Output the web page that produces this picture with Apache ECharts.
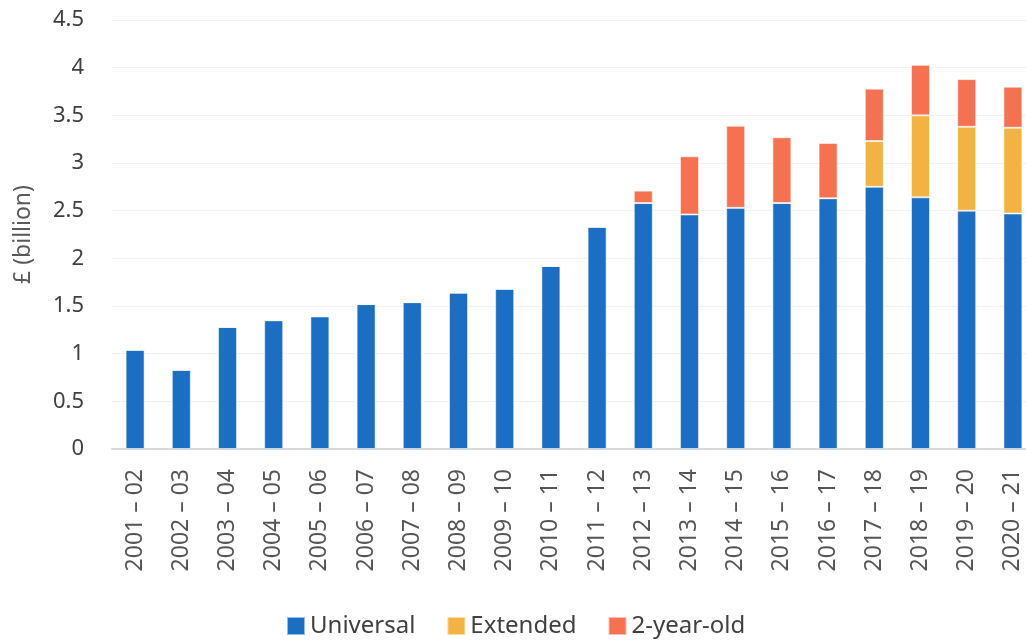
<!DOCTYPE html>
<html>
<head>
<meta charset="utf-8">
<script src="https://cdn.jsdelivr.net/npm/echarts@6/dist/echarts.min.js"></script>
<style>
  html, body { margin: 0; padding: 0; background: #ffffff; }
  #chart { width: 1026px; height: 643px; }
</style>
</head>
<body>
<div id="chart"></div>
<script>
// Financial years
const years = [
  '2001 – 02', '2002 – 03', '2003 – 04', '2004 – 05', '2005 – 06',
  '2006 – 07', '2007 – 08', '2008 – 09', '2009 – 10', '2010 – 11',
  '2011 – 12', '2012 – 13', '2013 – 14', '2014 – 15', '2015 – 16',
  '2016 – 17', '2017 – 18', '2018 – 19', '2019 – 20', '2020 – 21'
];

// Spending in £ billion
const universal = [
  1.04, 0.83, 1.28, 1.35, 1.39, 1.52, 1.54, 1.64, 1.68, 1.92,
  2.33, 2.58, 2.46, 2.53, 2.58, 2.63, 2.75, 2.64, 2.50, 2.47
];
const extended = [
  0, 0, 0, 0, 0, 0, 0, 0, 0, 0,
  0, 0, 0, 0, 0, 0, 0.48, 0.86, 0.88, 0.90
];
const twoYearOld = [
  0, 0, 0, 0, 0, 0, 0, 0, 0, 0,
  0, 0.13, 0.61, 0.86, 0.69, 0.58, 0.55, 0.53, 0.50, 0.43
];

const yTicks = { min: 0, max: 4.5, interval: 0.5 };

const FONT = '"Noto Sans", Lato, sans-serif';
const chart = echarts.init(document.getElementById('chart'));

const barStyle = (color) => ({
  color: color,
  borderColor: 'rgba(255,255,255,0.55)',
  borderWidth: 1
});

chart.setOption({
  animation: false,
  textStyle: { fontFamily: FONT },
  grid: {
    left: 112, right: -10, top: 20, bottom: 194,
    containLabel: false,
    outerBoundsMode: 'none'
  },
  legend: {
    bottom: 0,
    left: 281,
    itemWidth: 18,
    itemHeight: 18,
    itemGap: 31,
    itemTextGap: 8,
    icon: 'rect',
    textStyle: { fontSize: 24, color: '#404040', fontFamily: FONT },
    data: ['Universal', 'Extended', '2-year-old']
  },
  xAxis: {
    type: 'category',
    data: years,
    axisTick: { show: false },
    axisLine: { lineStyle: { color: '#d9d9d9', width: 2 } },
    axisLabel: {
      rotate: 90,
      interval: 0,
      margin: 20,
      fontSize: 23,
      color: '#555555',
      fontFamily: FONT
    }
  },
  yAxis: {
    type: 'value',
    min: yTicks.min,
    max: yTicks.max,
    interval: yTicks.interval,
    name: '£ (billion)',
    nameLocation: 'middle',
    nameGap: 77,
    nameTextStyle: { fontSize: 23, color: '#595959', fontFamily: FONT },
    axisLine: { show: false },
    axisTick: { show: false },
    splitLine: { lineStyle: { color: '#f2f2f2', width: 1 } },
    axisLabel: {
      margin: 28,
      fontSize: 22,
      color: '#404040',
      fontFamily: FONT
    }
  },
  series: [
    { name: 'Universal', type: 'bar', stack: 'total', barWidth: 19, data: universal, itemStyle: barStyle('#1C6EC3') },
    { name: 'Extended', type: 'bar', stack: 'total', barWidth: 19, data: extended, itemStyle: barStyle('#F2B342') },
    { name: '2-year-old', type: 'bar', stack: 'total', barWidth: 19, data: twoYearOld, itemStyle: barStyle('#F47252') }
  ]
});
</script>
</body>
</html>
